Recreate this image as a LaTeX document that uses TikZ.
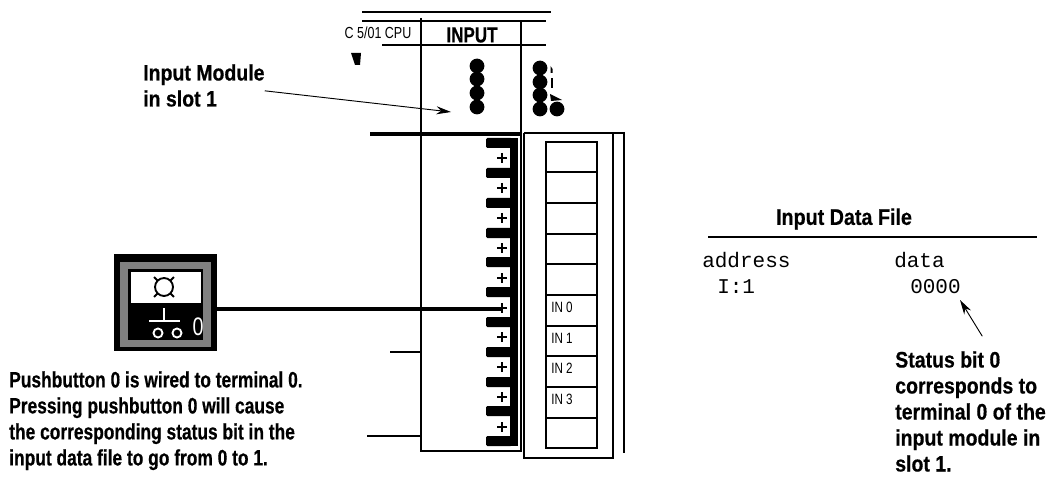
\documentclass[tikz,border=0pt]{standalone}
\usepackage{fontspec}
\setmainfont{Liberation Sans}[FakeStretch=0.78, BoldFeatures={FakeBold=0.5}]
\newfontfamily\widesans{Liberation Sans}[FakeStretch=0.87, BoldFeatures={FakeBold=0.5}]
\setmonofont{Liberation Mono}
\usetikzlibrary{arrows.meta, positioning, calc}
\tikzset{
    note/.style={inner sep=0pt, align=left, anchor=north west, font=\fontsize{16.7}{19.5}\selectfont\bfseries},
    widenote/.style={note, font=\widesans\fontsize{16.8}{19.5}\selectfont\bfseries},
    mono/.style={inner sep=0pt, anchor=base west, font=\fontsize{15.75}{18}\selectfont\ttfamily},
    slotlabel/.style={inner sep=0pt, anchor=base west, font=\fontsize{11.2}{13}\selectfont},
    leader/.style={line width=0.7pt, -{Stealth[length=11pt,width=6pt]}},
    frame/.style={line width=1.8pt},
    cell/.style={line width=1.4pt}
}
\begin{document}
\begin{tikzpicture}[x=0.75pt,y=-0.75pt]
\useasboundingbox (0,0) rectangle (1048,477);
% Chassis top
\draw[line width=1.2pt] (362,12) -- (551,12);
\draw[line width=1.8pt] (362,21) -- (546,21);
\draw[line width=1.8pt] (382,45) -- (546,45);
\draw[frame] (421,18) -- (421,451) -- (521,451) -- (521,21);
\draw[line width=2.4pt] (370,134) -- (521,134);
\draw[line width=1.2pt] (390,352) -- (421,352);
\draw[line width=1.2pt] (367,436) -- (421,436);
\fill (351,53) -- (361,53) -- (360,65) -- (355,65) -- cycle;
\node[inner sep=0pt, font=\fontsize{12}{14}\selectfont] (cpu) at (378,33) {C 5/01 CPU};
\node[inner sep=0pt, font=\fontsize{16.3}{18}\selectfont\bfseries] (inputtitle) at (472,35) {INPUT};
% Status lights
\foreach \y in {66,79,93,107} {
    \fill (477,\y) circle (7.4);
}
\foreach \y in {68,82,95,109} {
    \fill (540,\y) circle (7.4);
}
\fill (557,109) circle (7.4);
\fill (550.5,66) -- (552.5,69) -- (552.5,73) -- (550.5,73) -- cycle;
\fill (550.5,78) -- (552.5,78) -- (552.5,88) -- (550.5,88) -- cycle;
\fill (550,94) -- (562,100) -- (551,101) -- cycle;
% Terminal block
\draw[line width=1.4pt] (524,133) -- (624,133);
\draw[line width=1.8pt] (524,133) -- (524,458) -- (613,458) -- (613,133);
\draw[line width=1.8pt] (624,132) -- (624,453);
\fill (510,138) rectangle (518,446);
\foreach \y in {138,168,198,228,257,287,317,347,377,406,436} {
    \fill[rounded corners=1pt] (486,\y) rectangle (512,\y+10);
}
\foreach \y in {158,188,218,248,278,308,337,367,397,427} {
    \draw[line width=1.5pt] (497,\y) -- (507,\y) (502,\y-5) -- (502,\y+5);
}
\foreach \i in {0,...,9} {
    \draw[cell] (546,141.7+30.67*\i) rectangle (597,141.7+30.67*\i+30.67);
}
\node[slotlabel] (in0) at (551,312) {IN 0};
\node[slotlabel] (in1) at (551,343) {IN 1};
\node[slotlabel] (in2) at (551,373) {IN 2};
\node[slotlabel] (in3) at (551,404) {IN 3};
% Pushbutton
\node[fill=black, inner sep=0pt, minimum width=77.25pt, minimum height=72.75pt] (button) at (165.5,302.5) {};
\fill[gray] (120,262) rectangle (211,347);
\fill (128,269) rectangle (203,340);
\fill[white] (131,272) rectangle (201,303);
\draw[line width=1.4pt] (164,287) circle (9);
\foreach \a in {45,135,225,315} {
    \draw[line width=1.4pt] ($(164,287)+(\a:9)$) -- +(\a:5);
}
\draw[white, line width=1.4pt] (164,308) -- (164,321) (149,321) -- (180,321);
\draw[white, line width=1.4pt] (158,333) circle (4.5) (177,333) circle (4.5);
\node[white, inner sep=0pt, font=\fontsize{19}{22}\selectfont] (buttonzero) at (198,327) {0};
\coordinate (term0) at (503,309);
\draw[line width=2.6pt] (button.east |- term0) -- (term0);
% Notes
\node[widenote] (modulenote) at (143,64) {Input Module\\in slot 1};
\coordinate (moduletip) at (451,112);
\draw[leader] (modulenote.-5) -- (moduletip);
\node[note] (wirednote) at (9,371) {Pushbutton 0 is wired to terminal 0.\\Pressing pushbutton 0 will cause\\the corresponding status bit in the\\input data file to go from 0 to 1.};
\node[widenote] (statusnote) at (895,351) {Status bit 0\\corresponds to\\terminal 0 of the\\input module in\\slot 1.};
% Data file
\node[inner sep=0pt, font=\widesans\fontsize{17}{19}\selectfont\bfseries] (filetitle) at (844,219) {Input Data File};
\draw[line width=1.4pt] (708,237) -- (1037,237);
\node[mono] (addrhead) at (702,267) {address};
\node[mono] (datahead) at (894,267) {data};
\node[mono] (addrval) at (717,293) {I:1};
\node[mono] (dataval) at (910,293) {0000};
\coordinate (bittip) at (960,300);
\draw[leader, shorten <=13pt] (statusnote.71) -- (bittip);
\end{tikzpicture}
\end{document}
